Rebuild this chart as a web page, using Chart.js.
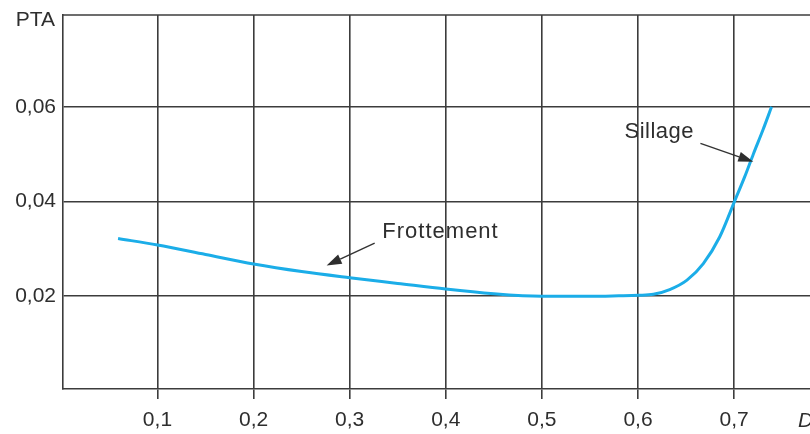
<!DOCTYPE html>
<html><head><meta charset="utf-8">
<script src="https://cdn.jsdelivr.net/npm/chart.js@4/dist/chart.umd.min.js"></script>
<style>html,body{margin:0;padding:0;background:#fff}#wrap{width:810px;height:434px}</style>
</head><body><div id="wrap"><canvas id="c" width="810" height="434"></canvas></div>
<script>
const xValues = [0.059, 0.1, 0.15, 0.2, 0.25, 0.3, 0.35, 0.4, 0.45, 0.48, 0.5, 0.55, 0.58, 0.6, 0.616, 0.633, 0.651, 0.668, 0.685, 0.701, 0.711, 0.72, 0.73, 0.739];
const ptaValues = [0.0322, 0.0308, 0.0288, 0.0268, 0.0252, 0.0239, 0.0227, 0.0215, 0.0205, 0.0201, 0.0200, 0.0200, 0.0201, 0.0202, 0.0204, 0.0214, 0.0234, 0.0269, 0.0325, 0.0403, 0.0452, 0.0500, 0.0551, 0.0600];
const xTicks = [0.1, 0.2, 0.3, 0.4, 0.5, 0.6, 0.7];
const yTicks = [0.02, 0.04, 0.06];
const yTitle = 'PTA';
const xTitle = 'D';
const labelsText = ['Frottement', 'Sillage'];

const X_MIN = 0.0017, X_MAX = 0.779, Y_MIN = 0.0004, Y_MAX = 0.0794;
const notes = [
  {text: labelsText[0], tx: 0.334, ty: 0.0336, from: [0.326, 0.0312], to: [0.276, 0.0265], spacing: '1px'},
  {text: labelsText[1], tx: 0.586, ty: 0.0548, from: [0.665, 0.0523], to: [0.720, 0.0484], spacing: '0.5px'}
];
const FONT = '"Liberation Sans", Arial, sans-serif';
const GRID = '#3c3c3c';
const TXT = '#2e2e2e';

const annot = {
  id: 'annot',
  afterDraw(chart) {
    const {ctx, scales: {x, y}, chartArea} = chart;
    ctx.save();
    ctx.fillStyle = TXT;
    ctx.strokeStyle = '#333';
    ctx.textBaseline = 'middle';
    ctx.textAlign = 'left';
    notes.forEach(n => {
      ctx.font = '22px ' + FONT;
      ctx.letterSpacing = n.spacing;
      ctx.fillText(n.text, x.getPixelForValue(n.tx), y.getPixelForValue(n.ty));
      ctx.letterSpacing = '0px';
      const x1 = x.getPixelForValue(n.from[0]), y1 = y.getPixelForValue(n.from[1]);
      const x2 = x.getPixelForValue(n.to[0]), y2 = y.getPixelForValue(n.to[1]);
      const a = Math.atan2(y2 - y1, x2 - x1);
      const L = 15, W = 5;
      const bx = x2 - L * Math.cos(a), by = y2 - L * Math.sin(a);
      ctx.lineWidth = 1.4;
      ctx.beginPath(); ctx.moveTo(x1, y1); ctx.lineTo(bx, by); ctx.stroke();
      ctx.beginPath();
      ctx.moveTo(x2, y2);
      ctx.lineTo(bx + W * Math.sin(a), by - W * Math.cos(a));
      ctx.lineTo(bx - W * Math.sin(a), by + W * Math.cos(a));
      ctx.closePath(); ctx.fill();
    });
    // axis titles
    ctx.font = '21px ' + FONT;
    ctx.textAlign = 'right';
    ctx.fillText(yTitle, chartArea.left - 8, chartArea.top + 5);
    ctx.font = 'italic 21px ' + FONT;
    ctx.textAlign = 'left';
    ctx.fillText(xTitle, 798, 421);
    // top border
    ctx.strokeStyle = GRID; ctx.lineWidth = 1.6;
    ctx.beginPath(); ctx.moveTo(chartArea.left, chartArea.top); ctx.lineTo(chartArea.right, chartArea.top); ctx.stroke();
    ctx.restore();
  }
};

new Chart(document.getElementById('c'), {
  type: 'line',
  data: {
    datasets: [{
      data: xValues.map((v, i) => ({x: v, y: ptaValues[i]})),
      borderColor: '#1BADE8',
      borderWidth: 3,
      pointRadius: 0,
      cubicInterpolationMode: 'monotone',
      fill: false
    }]
  },
  options: {
    responsive: false,
    animation: false,
    events: [],
    layout: {padding: {top: 15, right: 0, left: 0, bottom: 0}},
    plugins: {legend: {display: false}, tooltip: {enabled: false}},
    scales: {
      x: {
        type: 'linear', min: X_MIN, max: X_MAX,
        afterBuildTicks: s => { s.ticks = xTicks.map(v => ({value: v})); },
        afterFit: s => { s.height = 45; s.paddingLeft = 0; s.paddingRight = 0; },
        grid: {color: GRID, lineWidth: 1.6, tickLength: 10, tickColor: GRID},
        border: {color: GRID, width: 1.6},
        ticks: {color: TXT, font: {family: FONT, size: 21}, padding: 9,
          maxRotation: 0, autoSkip: false, callback: v => v.toFixed(1).replace('.', ',')}
      },
      y: {
        type: 'linear', min: Y_MIN, max: Y_MAX,
        afterBuildTicks: s => { s.ticks = yTicks.map(v => ({value: v})); },
        afterFit: s => { s.width = 63; s.paddingTop = 0; s.paddingBottom = 0; },
        grid: {color: GRID, lineWidth: 1.6, tickLength: 0, drawTicks: false},
        border: {color: GRID, width: 1.6},
        ticks: {color: TXT, font: {family: FONT, size: 21}, padding: 7,
          callback: v => v.toFixed(2).replace('.', ',')}
      }
    }
  },
  plugins: [annot]
});
</script></body></html>
